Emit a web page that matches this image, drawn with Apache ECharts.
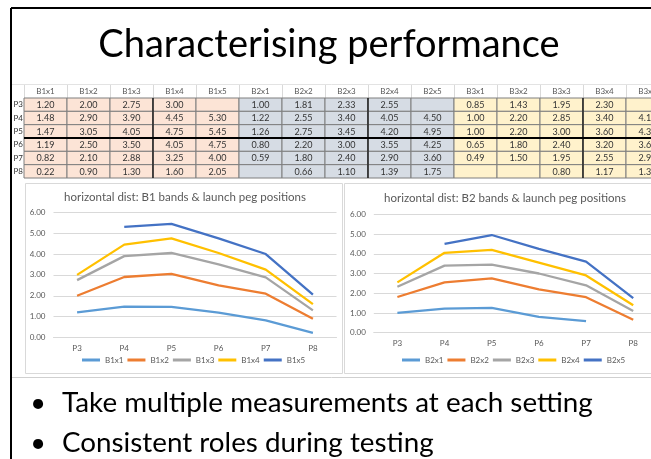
<!DOCTYPE html>
<html><head><meta charset="utf-8">
<script src="https://cdn.jsdelivr.net/npm/echarts@6/dist/echarts.min.js"></script>
<style>html,body{margin:0;padding:0;background:#fff}#c{width:651px;height:459px}</style>
</head><body><div id="c"></div>
<script>
// ---------- data ----------
const positions = ['P3','P4','P5','P6','P7','P8'];
const b1Names = ['B1x1','B1x2','B1x3','B1x4','B1x5'];
const b2Names = ['B2x1','B2x2','B2x3','B2x4','B2x5'];
const b3Names = ['B3x1','B3x2','B3x3','B3x4','B3x5'];
const b1x1 = [1.20,1.48,1.47,1.19,0.82,0.22];
const b1x2 = [2.00,2.90,3.05,2.50,2.10,0.90];
const b1x3 = [2.75,3.90,4.05,3.50,2.88,1.30];
const b1x4 = [3.00,4.45,4.75,4.05,3.25,1.60];
const b1x5 = [null,5.30,5.45,4.75,4.00,2.05];
const b2x1 = [1.00,1.22,1.26,0.80,0.59,null];
const b2x2 = [1.81,2.55,2.75,2.20,1.80,0.66];
const b2x3 = [2.33,3.40,3.45,3.00,2.40,1.10];
const b2x4 = [2.55,4.05,4.20,3.55,2.90,1.39];
const b2x5 = [null,4.50,4.95,4.25,3.60,1.75];
const b3x1 = [0.85,1.00,1.00,0.65,0.49,null];
const b3x2 = [1.43,2.20,2.20,1.80,1.50,null];
const b3x3 = [1.95,2.85,3.00,2.40,1.95,0.80];
const b3x4 = [2.30,3.40,3.60,3.20,2.55,1.17];
const b3x5 = [null,4.10,4.35,3.65,2.90,1.35];
const yTicks = [0,1,2,3,4,5,6];
const slideTitle = 'Characterising performance';
const chartTitle1 = 'horizontal dist: B1 bands & launch peg positions';
const chartTitle2 = 'horizontal dist: B2 bands & launch peg positions';
const bullets = ['Take multiple measurements at each setting','Consistent roles during testing'];

// ---------- build ----------
const b1Vals = [b1x1,b1x2,b1x3,b1x4,b1x5];
const b2Vals = [b2x1,b2x2,b2x3,b2x4,b2x5];
const b3Vals = [b3x1,b3x2,b3x3,b3x4,b3x5];
const tableCols = b1Names.concat(b2Names, b3Names);
const tableVals = b1Vals.concat(b2Vals, b3Vals);
const tableData = [];
tableCols.forEach((c, ci) => positions.forEach((p, ri) => tableData.push([c, p, tableVals[ci][ri]])));

const FONT = 'Lato, "Open Sans", sans-serif';
const palette = ['#5B9BD5','#ED7D31','#A5A5A5','#FFC000','#4472C4'];
const bandFill = {B1:'#FCE4D6', B2:'#D6DCE4', B3:'#FFF2CC'};
const grey = '#595959';

function lineSeries(names, vals, idx) {
  return names.map((n, i) => ({
    name: n, type: 'line', xAxisIndex: idx, yAxisIndex: idx,
    data: vals[i], symbol: 'none', showSymbol: false, connectNulls: false,
    lineStyle: {width: 2.3, color: palette[i]}, itemStyle: {color: palette[i]},
    emphasis: {disabled: true}, z: 3
  }));
}

function valueAxis(idx) {
  return {type:'value', gridIndex: idx, min: yTicks[0], max: yTicks[yTicks.length-1], interval: 1,
    axisLine:{show:false}, axisTick:{show:false},
    splitLine:{lineStyle:{color:'#D9D9D9', width:1}},
    axisLabel:{fontSize:8, color:grey, fontFamily:FONT, margin:8, formatter: v => v.toFixed(2)}};
}
function catAxis(idx) {
  return {type:'category', gridIndex: idx, data: positions, boundaryGap: true,
    axisLine:{lineStyle:{color:'#D9D9D9'}}, axisTick:{show:false},
    axisLabel:{fontSize:8, color:grey, fontFamily:FONT, margin:7}};
}

const option = {
  animation: false,
  backgroundColor: '#fff',
  grid: [
    {left: 24, top: 98, width: 645, height: 80, outerBoundsMode: 'none', containLabel: false},
    {left: 53.5, top: 212.3, width: 283, height: 125.2, outerBoundsMode: 'none', containLabel: false},
    {left: 373.8, top: 214.3, width: 283, height: 118.4, outerBoundsMode: 'none', containLabel: false}
  ],
  xAxis: [
    {type:'category', gridIndex:0, data: tableCols, position:'top',
      axisLine:{show:false}, axisTick:{show:true, length:13, inside:false, lineStyle:{color:'#D9D9D9'}},
      axisLabel:{fontSize:8, color:grey, fontFamily:FONT, margin:3}, splitLine:{show:false}},
    catAxis(1), catAxis(2)
  ],
  yAxis: [
    {type:'category', gridIndex:0, data: positions, inverse:true,
      axisLine:{show:false}, axisTick:{show:false},
      axisLabel:{fontSize:8, color:'#333', fontFamily:FONT, margin:1}},
    valueAxis(1), valueAxis(2)
  ],
  legend: [
    {data: b1Names, left: 82, top: 356, icon:'rect', itemWidth:18, itemHeight:3, itemGap:4, padding:0,
      textStyle:{fontSize:8, color:grey, fontFamily:FONT}},
    {data: b2Names, left: 402, top: 356, icon:'rect', itemWidth:18, itemHeight:3, itemGap:4, padding:0,
      textStyle:{fontSize:8, color:grey, fontFamily:FONT}}
  ],
  graphic: [
    // slide frame
    {type:'line', shape:{x1:11, y1:8, x2:11, y2:459}, style:{stroke:'#000', lineWidth:2}, z:100},
    {type:'line', shape:{x1:11, y1:8, x2:651, y2:8}, style:{stroke:'#000', lineWidth:2}, z:100},
    // spreadsheet light lines
    {type:'line', shape:{x1:12, y1:84.5, x2:651, y2:84.5}, style:{stroke:'#E3E3E3', lineWidth:1}},
    {type:'line', shape:{x1:12, y1:377.5, x2:651, y2:377.5}, style:{stroke:'#D0D0D0', lineWidth:1}},
    // chart boxes
    {type:'rect', shape:{x:25.5, y:183.5, width:317, height:190}, style:{fill:'none', stroke:'#D9D9D9', lineWidth:1}},
    {type:'rect', shape:{x:344.5, y:183.5, width:320, height:190}, style:{fill:'none', stroke:'#D9D9D9', lineWidth:1}},
    // chart titles
    {type:'text', x:185, y:197, style:{text:chartTitle1, fontSize:11.5, fontFamily:FONT, fill:grey, align:'center', verticalAlign:'middle'}},
    {type:'text', x:505, y:198, style:{text:chartTitle2, fontSize:11.5, fontFamily:FONT, fill:grey, align:'center', verticalAlign:'middle'}},
    // slide title
    {type:'text', x:329, y:45, style:{text:slideTitle, fontSize:38, fontFamily:FONT, fill:'#000', align:'center', verticalAlign:'middle'}},
    // bullets
    {type:'text', x:38, y:403, style:{text:'•', fontSize:27, fontFamily:FONT, fill:'#000', align:'center', verticalAlign:'middle'}},
    {type:'text', x:62, y:403, style:{text:bullets[0], fontSize:27.8, fontFamily:FONT, fill:'#000', align:'left', verticalAlign:'middle'}},
    {type:'text', x:38, y:443, style:{text:'•', fontSize:27, fontFamily:FONT, fill:'#000', align:'center', verticalAlign:'middle'}},
    {type:'text', x:62, y:443, style:{text:bullets[1], fontSize:27.8, fontFamily:FONT, fill:'#000', align:'left', verticalAlign:'middle'}}
  ],
  series: [
    {type:'custom', xAxisIndex:0, yAxisIndex:0, data: tableData, silent:true,
      renderItem(params, api) {
        const c = api.coord([api.value(0), api.value(1)]);
        const s = api.size([1, 1]);
        const v = api.value(2);
        const name = tableCols[api.value(0)];
        const band = name.slice(0, 2);
        const x0 = c[0] - s[0]/2, y0 = c[1] - s[1]/2;
        const children = [
          {type:'rect', shape:{x:x0, y:y0, width:s[0], height:s[1]}, style:{fill:bandFill[band], stroke:'#7F7F7F', lineWidth:1}},
          {type:'text', style:{text: (v === null || isNaN(v)) ? '' : Number(v).toFixed(2), x:c[0], y:c[1]+0.5, align:'center', verticalAlign:'middle', fontSize:9, fontFamily:FONT, fill:'#333'}}
        ];
        if (name.endsWith('x3')) children.push({type:'line', shape:{x1:x0+s[0], y1:y0, x2:x0+s[0], y2:y0+s[1]}, style:{stroke:'#000', lineWidth:1.2}, z2:5});
        if (positions[api.value(1)] === 'P5') children.push({type:'line', shape:{x1:x0, y1:y0+s[1], x2:x0+s[0], y2:y0+s[1]}, style:{stroke:'#000', lineWidth:2}, z2:6});
        return {type:'group', children};
      }}
  ].concat(lineSeries(b1Names, b1Vals, 1), lineSeries(b2Names, b2Vals, 2))
};

const chart = echarts.init(document.getElementById('c'), null, {renderer:'canvas'});
chart.setOption(option);
</script></body></html>
